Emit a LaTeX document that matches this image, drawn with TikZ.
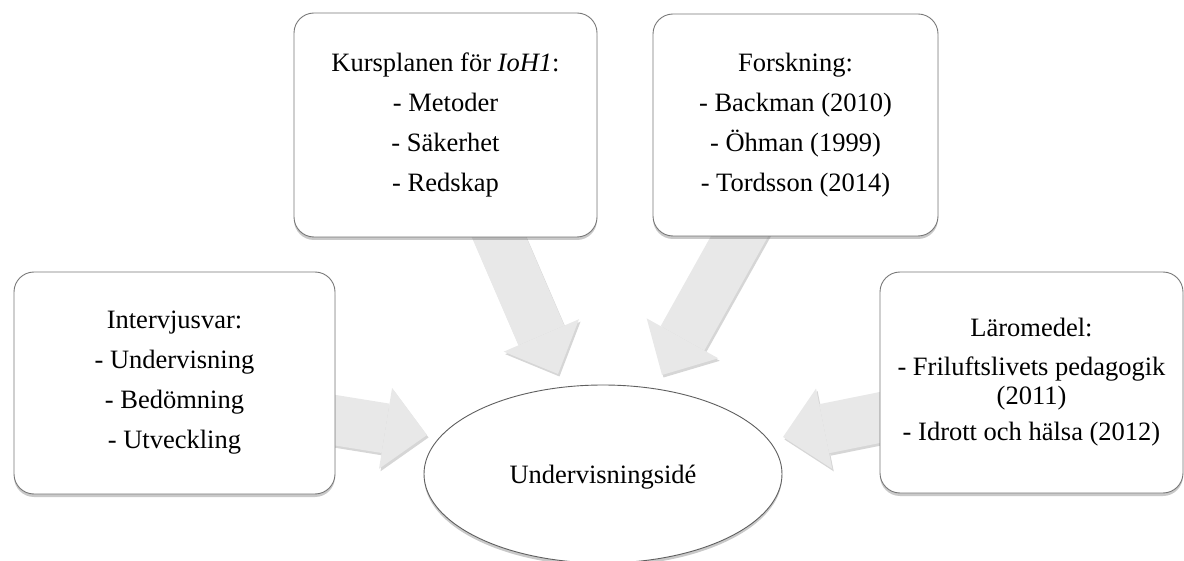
\documentclass[tikz,border=0pt]{standalone}
\usepackage{fontspec}
\setmainfont{Liberation Serif}
\usetikzlibrary{arrows.meta,shadows,shapes.geometric}
\pgfdeclarelayer{bg}
\pgfsetlayers{bg,main}
\definecolor{boxline}{RGB}{120,120,120}
\definecolor{ovalline}{RGB}{95,95,95}
\definecolor{arrowfill}{RGB}{232,232,232}
\definecolor{arrowshade}{RGB}{214,214,214}
\tikzset{
  lbl/.style={font=\fontsize{26.5}{29}\selectfont},
  box/.style={lbl, draw=boxline, line width=0.9pt, fill=white, rounded corners=20pt,
    align=center, inner sep=0pt,
    drop shadow={shadow xshift=0pt, shadow yshift=-3pt, opacity=.3, fill=black!70}},
  oval/.style={lbl, ellipse, draw=ovalline, line width=0.9pt, fill=white, inner sep=0pt,
    text depth=0pt,
    drop shadow={shadow xshift=0pt, shadow yshift=-3pt, opacity=.3, fill=black!70}},
  bigarrow/.style={line width=50pt, draw=arrowfill,
    -{Triangle[width=82pt,length=42pt,line width=0pt]}},
  arrowshadow/.style={line width=50pt, draw=arrowshade,
    -{Triangle[width=82pt,length=42pt,line width=0pt]},
    transform canvas={shift={(1.5pt,-2.5pt)}}},
}
\begin{document}
\begin{tikzpicture}[x=1pt,y=-1pt]
\useasboundingbox (0,0) rectangle (1184,561);

\node[box, minimum width=321pt, minimum height=222pt] (intv) at (174.5,383)
  {Intervjusvar:\\[11pt]- Undervisning\\[11pt]- Bedömning\\[11pt]- Utveckling};
\node[box, minimum width=303pt, minimum height=224pt] (kurs) at (445.5,125)
  {Kursplanen för \textit{IoH1}:\\[11pt]- Metoder\\[11pt]- Säkerhet\\[11pt]- Redskap};
\node[box, minimum width=285pt, minimum height=222pt] (forsk) at (795.5,125)
  {Forskning:\\[11pt]- Backman (2010)\\[11pt]- Öhman (1999)\\[11pt]- Tordsson (2014)};
\node[box, minimum width=303pt, minimum height=221pt] (laro) at (1031.5,382.5)
  {Läromedel:\\[10pt]- Friluftslivets pedagogik\\(2011)\\[7pt]- Idrott och hälsa (2012)};
\node[oval, minimum width=358pt, minimum height=178pt] (idea) at (603,474)
  {Undervisningsidé};

\coordinate (s1) at ([xshift=-20pt,yshift=-34pt]intv.east);
\coordinate (s2) at ([xshift=45pt,yshift=20pt]kurs.south);
\coordinate (s3) at ([xshift=-45pt,yshift=20pt]forsk.south);
\coordinate (s4) at ([xshift=20pt,yshift=-31pt]laro.west);
\coordinate (t1) at (427,435);
\coordinate (t2) at (558,374);
\coordinate (t3) at (662,375);
\coordinate (t4) at (783,437);

\begin{pgfonlayer}{bg}
  \foreach \i in {1,2,3,4}{
    \draw[arrowshadow] (s\i) -- (t\i);
    \draw[bigarrow] (s\i) -- (t\i);
  }
\end{pgfonlayer}
\end{tikzpicture}
\end{document}
